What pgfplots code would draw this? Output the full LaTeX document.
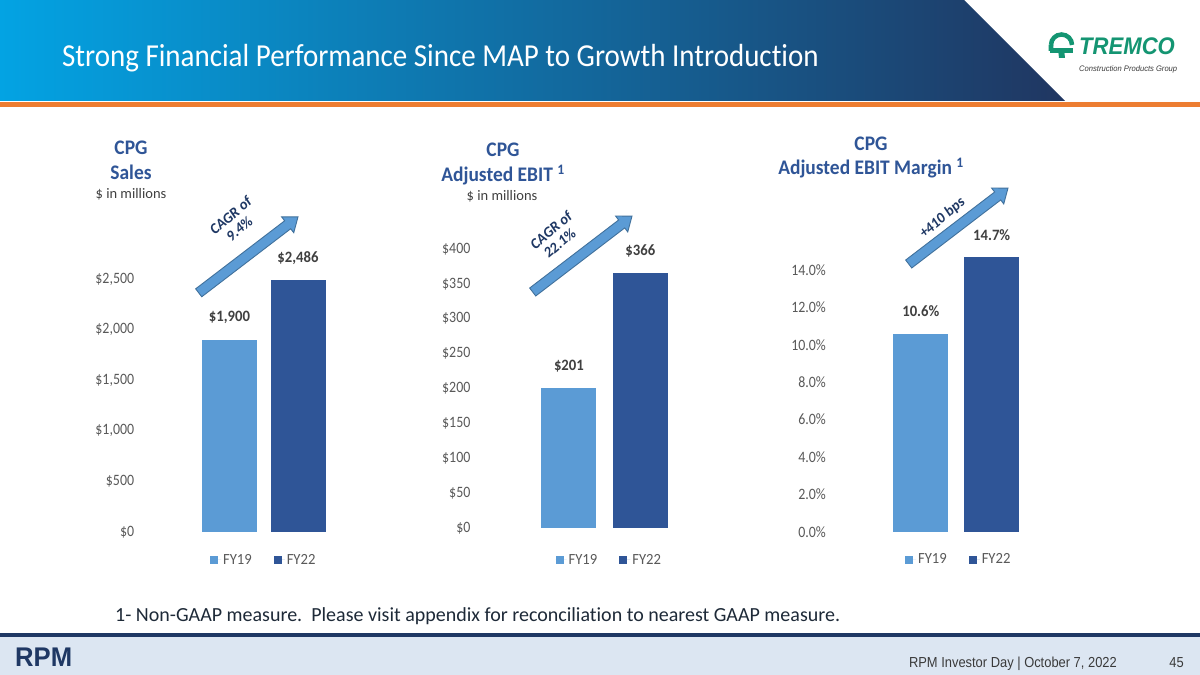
\documentclass[border=0pt]{standalone}
\usepackage{fontspec}
\setmainfont{Carlito}[Ligatures=NoCommon]
\newfontfamily\arialf{Liberation Sans}
\usepackage{pgfplots}
\pgfplotsset{compat=1.18}
\usepackage{graphicx}

\definecolor{fyA}{HTML}{5B9BD5}
\definecolor{fyB}{HTML}{2F5597}
\definecolor{ttl}{HTML}{2F5597}
\definecolor{tickc}{HTML}{595959}
\definecolor{dlab}{HTML}{404040}
\definecolor{navy}{HTML}{1F3864}
\definecolor{arrline}{HTML}{41719C}
\definecolor{banL}{HTML}{03A3E3}
\definecolor{banM}{HTML}{0E6CA8}
\definecolor{banR}{HTML}{203661}
\definecolor{orl}{HTML}{ED7D31}
\definecolor{footbg}{HTML}{DCE6F2}
\definecolor{footline}{HTML}{1F3864}
\definecolor{tgreen}{HTML}{149572}
\definecolor{foottxt}{HTML}{3A3A3A}
\definecolor{notec}{HTML}{1E2A38}

\pgfplotsset{
  cpgbase/.style={
    scale only axis, clip=false,
    xmin=-0.5, xmax=1.5, ymin=0,
    xtick=\empty,
    axis line style={draw=none},
    tick style={draw=none},
    major tick length=0pt,
    scaled y ticks=false,
    ybar, bar width=55pt, bar shift=0pt,
    /pgf/number format/assume math mode=true,
    yticklabel style={anchor=east, inner sep=0pt, xscale=0.88, font=\fontsize{15.8}{18}\selectfont, text=tickc},
    nodes near coords style={anchor=center, yshift=22pt, xscale=0.93, font=\fontsize{15.8}{18}\selectfont\bfseries, text=dlab},
    legend style={at={(0.5,0)}, anchor=center, yshift=-28pt, draw=none, fill=none,
      legend columns=2, font=\fontsize{15.5}{18}\selectfont, text=tickc,
      /tikz/every even column/.append style={column sep=20pt}},
  },
  legA/.style={legend image code/.code={\fill[fyA] (0pt,-4pt) rectangle (8pt,4pt); \path (0pt,0pt) -- (11pt,0pt);}},
  legB/.style={legend image code/.code={\fill[fyB] (0pt,-4pt) rectangle (8pt,4pt); \path (0pt,0pt) -- (11pt,0pt);}},
}
\newcommand{\lgd}[1]{\scalebox{0.945}[1]{#1}}

\newcommand{\cgarrow}[2]{%
  \begin{scope}[shift={(#1,#2)}, rotate=37.4]
    \filldraw[fill=fyA, draw=arrline, line width=0.9pt, line join=miter]
      (0,-5) -- (112,-5) -- (112,-10) -- (125,0) -- (112,10) -- (112,5) -- (0,5) -- cycle;
  \end{scope}}

\begin{document}
\begin{tikzpicture}[x=1pt,y=1pt]
\path[use as bounding box] (0,0) rectangle (1200,675);
\fill[white] (0,0) rectangle (1200,675);

% header banner
\shade[left color=banL, middle color=banM, right color=banR]
  (0,675) -- (964,675) -- (1065,574) -- (0,574) -- cycle;
\fill[orl] (0,568) rectangle (1200,573);
\node[anchor=base west, inner sep=0pt, text=white, xscale=0.906, font=\fontsize{32}{36}\selectfont]
  at (62,608.3) {Strong Financial Performance Since MAP to Growth Introduction};

% TREMCO logo
\begin{scope}[tgreen]
  \draw[line width=4.5pt] (1051,630) arc (180:0:10.5);
  \fill (1050,622) rectangle (1073,626.5);
  \fill (1059,617) -- (1065,617) -- (1064,626) -- (1058,626) -- cycle;
  \fill (1048.5,630) -- (1053.5,630) -- (1053,624) -- (1048.5,624) -- cycle;
\end{scope}
\node[anchor=base west, inner sep=0pt, text=tgreen] at (1079,620.5)
  {\scalebox{0.92}[1]{\arialf\fontsize{24}{26}\selectfont\bfseries\itshape TREMCO}};
\node[anchor=base west, inner sep=0pt, text=foottxt] at (1079,603.5)
  {\scalebox{0.95}[1]{\arialf\fontsize{8}{9}\selectfont\itshape Construction Products Group}};

% chart titles
\begin{scope}[every node/.style={inner sep=0pt, anchor=base, xscale=0.94, text=ttl, font=\fontsize{20.7}{24}\selectfont\bfseries}]
  \node at (131,520) {CPG};
  \node at (131,495) {Sales};
  \node at (503,518.3) {CPG};
  \node at (503,493.3) {Adjusted EBIT \textsuperscript{1}};
  \node at (871,524.3) {CPG};
  \node at (871,500) {Adjusted EBIT Margin \textsuperscript{1}};
\end{scope}
\begin{scope}[every node/.style={inner sep=0pt, anchor=base, text=dlab, font=\fontsize{14.5}{17}\selectfont}]
  \node at (131,476) {\$ in millions};
  \node at (502,474.3) {\$ in millions};
\end{scope}

% Chart 1: Sales
\begin{axis}[cpgbase, at={(195.25pt,143pt)}, anchor=south west,
  width=137pt, height=253pt, ymax=2500,
  ytick={0,500,1000,1500,2000,2500},
  yticklabel={\$\pgfmathprintnumber[1000 sep={,}]{\tick}},
  yticklabel style={xshift=-69.25pt},
  nodes near coords={\$\pgfmathprintnumber[1000 sep={,}]{\pgfplotspointmeta}},
]
\addplot[fill=fyA, draw=none, legA] coordinates {(0,1900)};
\addplot[fill=fyB, draw=none, legB] coordinates {(1,2486)};
\legend{\lgd{FY19},\lgd{FY22}}
\end{axis}

% Chart 2: Adjusted EBIT
\begin{axis}[cpgbase, at={(533.2pt,147pt)}, anchor=south west,
  width=142.8pt, height=279pt, ymax=400,
  ytick={0,50,100,150,200,250,300,350,400},
  yticklabel={\$\pgfmathprintnumber{\tick}},
  yticklabel style={xshift=-71.2pt},
  nodes near coords={\$\pgfmathprintnumber{\pgfplotspointmeta}},
  legend style={yshift=-4pt, xshift=4.7pt},
]
\addplot[fill=fyA, draw=none, legA] coordinates {(0,201)};
\addplot[fill=fyB, draw=none, legB] coordinates {(1,366)};
\legend{\lgd{FY19},\lgd{FY22}}
\end{axis}

% Chart 3: Adjusted EBIT Margin
\begin{axis}[cpgbase, at={(885.35pt,143.3pt)}, anchor=south west,
  width=141.8pt, height=261.7pt, ymax=14,
  ytick={0,2,4,6,8,10,12,14},
  yticklabel={\pgfmathprintnumber[fixed,fixed zerofill,precision=1]{\tick}\%},
  yticklabel style={xshift=-67.35pt},
  nodes near coords={\pgfmathprintnumber[fixed,fixed zerofill,precision=1]{\pgfplotspointmeta}\%},
  legend style={xshift=2.5pt},
]
\addplot[fill=fyA, draw=none, legA] coordinates {(0,10.6)};
\addplot[fill=fyB, draw=none, legB] coordinates {(1,14.7)};
\legend{\lgd{FY19},\lgd{FY22}}
\end{axis}

% growth arrows
\cgarrow{198.7}{382.2}
\cgarrow{532.7}{383}
\cgarrow{908.7}{411}
\begin{scope}[every node/.style={inner sep=0pt, xscale=0.9, rotate=37, align=center, text=navy, font=\fontsize{15.5}{16}\selectfont\bfseries}]
  \node at (235,453) {CAGR of\\9.4\%};
  \node at (555.5,438.5) {CAGR of\\22.1\%};
  \node at (942.5,457) {+410 bps};
\end{scope}

% footnote
\node[anchor=base west, inner sep=0pt, text=notec, font=\fontsize{20}{24}\selectfont]
  at (115,53.3) {1- Non-GAAP measure.~~Please visit appendix for reconciliation to nearest GAAP measure.};

% footer
\fill[footbg] (0,0) rectangle (1200,38);
\fill[footline] (0,38) rectangle (1200,42);
\node[anchor=base west, inner sep=0pt, text=footline] at (15,8.5)
  {\scalebox{0.95}[1]{\arialf\fontsize{27}{28}\selectfont\bfseries RPM}};
\node[anchor=base east, inner sep=0pt, text=foottxt] at (1117,7.7)
  {\scalebox{0.89}[1]{\arialf\fontsize{14.5}{16}\selectfont RPM Investor Day | October 7, 2022}};
\node[anchor=base east, inner sep=0pt, text=foottxt] at (1184,7.7)
  {\scalebox{0.89}[1]{\arialf\fontsize{14.5}{16}\selectfont 45}};
\end{tikzpicture}
\end{document}
